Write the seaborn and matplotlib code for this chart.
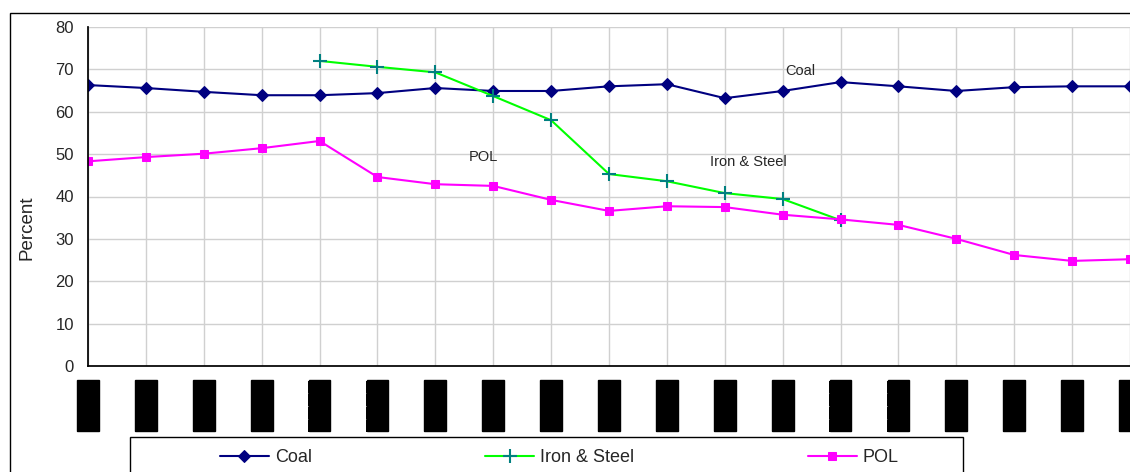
import numpy as np
import pandas as pd
import matplotlib
matplotlib.use('Agg')
import matplotlib.pyplot as plt
from matplotlib.patches import Rectangle
import seaborn as sns

# data
periods = list(range(19))
coal = [66.3, 65.6, 64.7, 63.9, 63.9, 64.4, 65.6, 64.9, 64.9, 66.0, 66.5, 63.2,
        64.9, 67.0, 66.0, 64.9, 65.8, 66.0, 66.0]
iron_steel = [np.nan, np.nan, np.nan, np.nan, 72.0, 70.6, 69.3, 63.7, 58.0, 45.3,
              43.6, 40.8, 39.4, 34.4, np.nan, np.nan, np.nan, np.nan, np.nan]
pol = [48.3, 49.3, 50.1, 51.4, 53.1, 44.6, 42.9, 42.5, 39.2, 36.6, 37.7, 37.5,
       35.7, 34.6, 33.3, 30.0, 26.2, 24.8, 25.2]
# tick labels are unreadable black blocks in the source
tick_labels = ['\u2588' * 4] * 19
y_ticks = [0, 10, 20, 30, 40, 50, 60, 70, 80]

sns.set_theme(style='white')
plt.rcParams['font.family'] = ['Liberation Sans', 'DejaVu Sans']

df = pd.DataFrame({'period': periods, 'Coal': coal,
                   'Iron & Steel': iron_steel, 'POL': pol})

fig = plt.figure(figsize=(11.3, 4.72), dpi=100)
ax = fig.add_axes([88 / 1130, 1 - 366 / 472, 1 - 88 / 1130, (366 - 27) / 472])

sns.lineplot(data=df, x='period', y='Coal', ax=ax, color='#000080', lw=1.5,
             marker='D', ms=6.5, mec='#000080', label='Coal')
sns.lineplot(data=df.dropna(subset=['Iron & Steel']), x='period', y='Iron & Steel',
             ax=ax, color='#00ff00', lw=1.5, marker='+', ms=10, mew=1.5,
             mec='#008080', label='Iron & Steel')
sns.lineplot(data=df, x='period', y='POL', ax=ax, color='#ff00ff', lw=1.5,
             marker='s', ms=6, mec='#ff00ff', label='POL')

ax.set_xlim(0, 18)
ax.set_ylim(0, 80)
ax.set_yticks(y_ticks)
ax.set_xticks(periods)
ax.set_xticklabels(tick_labels, rotation=90, fontsize=13, color='black', va='top')
for lbl in ax.get_xticklabels():
    lbl.set_bbox(dict(fc='black', ec='black', pad=0))
ax.tick_params(axis='x', length=4, pad=6, color='#555555')
ax.tick_params(axis='y', length=5, labelsize=12, color='black', pad=5)
ax.grid(True, color='#d0d0d0', lw=1)
for s in ['top', 'right']:
    ax.spines[s].set_visible(False)
ax.spines['left'].set_color('black')
ax.spines['bottom'].set_color('black')
ax.set_xlabel('')
ax.set_ylabel('')
fig.text(27 / 1130, 1 - 228 / 472, 'Percent', rotation=90, fontsize=13.5,
         ha='center', va='center')

# series labels inside the plot
ax.text(12.05, 69.6, 'Coal', fontsize=10.5, va='center')
ax.text(6.58, 49.3, 'POL', fontsize=10.5, va='center')
ax.text(10.74, 48.1, 'Iron & Steel', fontsize=10.5, va='center')

leg = ax.legend(loc='center left', bbox_to_anchor=(220 / 1130, 1 - 458 / 472),
                bbox_transform=fig.transFigure, ncol=3, frameon=False,
                fontsize=13, handlelength=2.7, handletextpad=0.35,
                columnspacing=9.6, borderpad=0, borderaxespad=0)

# legend box and outer chart frame (both cut off by the image edge)
fig.patches.append(Rectangle((130 / 1130, -0.1), 833 / 1130, 0.1 + 1 - 437 / 472,
                             transform=fig.transFigure, fill=False,
                             ec='black', lw=1))
fig.patches.append(Rectangle((10 / 1130, -0.1), 1.2, 0.1 + 1 - 13 / 472,
                             transform=fig.transFigure, fill=False,
                             ec='black', lw=1))

fig.savefig('out.png', dpi=100)
